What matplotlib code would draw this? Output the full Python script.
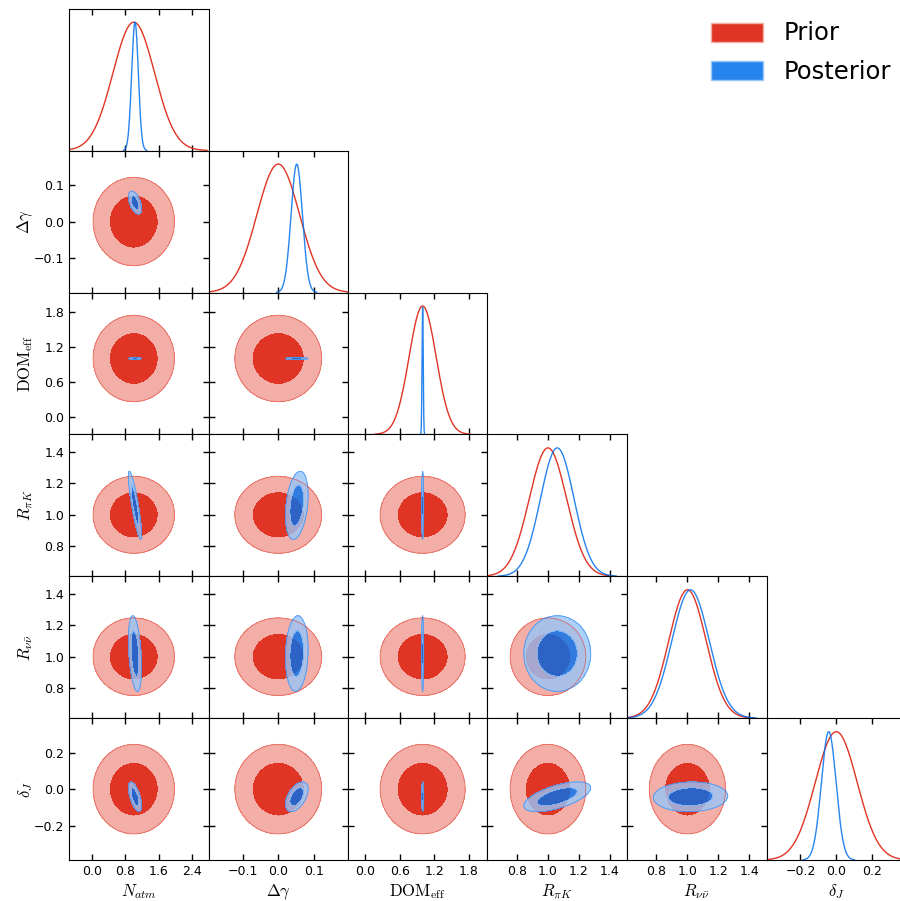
import numpy as np
import matplotlib.pyplot as plt
from matplotlib.patches import Patch

plt.rcParams["mathtext.fontset"] = "cm"

# parameter names, plot ranges and ticks
labels = [r"$N_{atm}$", r"$\Delta\gamma$", r"$\mathrm{DOM}_{\mathrm{eff}}$",
          r"$R_{\pi K}$", r"$R_{\nu\bar{\nu}}$", r"$\delta_J$"]
limits = [(-0.56, 2.8), (-0.196, 0.196), (-0.3, 2.13),
          (0.61, 1.51), (0.61, 1.51), (-0.39, 0.39)]
ticks = [[0.0, 0.8, 1.6, 2.4], [-0.1, 0.0, 0.1], [0.0, 0.6, 1.2, 1.8],
         [0.8, 1.0, 1.2, 1.4], [0.8, 1.0, 1.2, 1.4], [-0.2, 0.0, 0.2]]

# prior: independent gaussians
prior_mean = [1.0, 0.0, 1.0, 1.0, 1.0, 0.0]
prior_sd_2d = [0.49, 0.061, 0.37, 0.122, 0.123, 0.123]
prior_sd_1d = [0.50, 0.060, 0.235, 0.120, 0.120, 0.117]

# posterior
post_mean = [1.03, 0.052, 1.0, 1.06, 1.02, -0.042]
post_sd = [0.08, 0.016, 0.01, 0.108, 0.12, 0.041]
post_corr = [
    [1.00, -0.50, 0.0, -0.85, -0.35, -0.60],
    [-0.50, 1.00, 0.0, 0.30, 0.10, 0.50],
    [0.00, 0.00, 1.0, 0.00, 0.00, 0.00],
    [-0.85, 0.30, 0.0, 1.00, 0.00, 0.60],
    [-0.35, 0.10, 0.0, 0.00, 1.00, 0.05],
    [-0.60, 0.50, 0.0, 0.60, 0.05, 1.00],
]

red, red_light = "#E03424", "#F3AEA7"
blue, blue_light = "#006FED", "#99C5F8"
r_in, r_out = 1.2, 2.0  # contour radii in units of sigma

n = len(labels)
fig = plt.figure(figsize=(9, 9.01), dpi=100)
W, H = 900.0, 901.0
x0, y0, pw, ph = 69.0, 8.7, 139.5, 141.9


def r2_grid(X, Y, mx, my, sx, sy, rho):
    u = (X - mx) / sx
    v = (Y - my) / sy
    return (u * u - 2 * rho * u * v + v * v) / (1 - rho ** 2)


def gauss_1d(x, m, s):
    p = np.exp(-0.5 * ((x - m) / s) ** 2)
    p[p < 2e-3] = np.nan
    return p


for i in range(n):
    for j in range(i + 1):
        left = (x0 + j * pw) / W
        bottom = 1 - (y0 + (i + 1) * ph) / H
        ax = fig.add_axes([left, bottom, pw / W, ph / H])
        xlo, xhi = limits[j]
        if i == j:
            x = np.linspace(xlo, xhi, 800)
            ax.plot(x, gauss_1d(x, prior_mean[j], prior_sd_1d[j]), color=red, lw=1.0)
            ax.plot(x, gauss_1d(x, post_mean[j], post_sd[j]), color=blue, lw=1.0, alpha=0.85)
            ax.set_ylim(0, 1.105)
            ax.set_yticks([])
            ax.tick_params(direction="in", top=True, length=4)
        else:
            ylo, yhi = limits[i]
            X, Y = np.meshgrid(np.linspace(xlo, xhi, 700), np.linspace(ylo, yhi, 700))
            R = r2_grid(X, Y, prior_mean[j], prior_mean[i],
                        prior_sd_2d[j], prior_sd_2d[i], 0.0)
            ax.contourf(X, Y, R, levels=[0, r_in ** 2, r_out ** 2],
                        colors=[red, red_light])
            ax.contour(X, Y, R, levels=[r_out ** 2], colors=[red],
                       linewidths=0.7, alpha=0.5)
            R = r2_grid(X, Y, post_mean[j], post_mean[i],
                        post_sd[j], post_sd[i], post_corr[i][j])
            ax.contourf(X, Y, R, levels=[0, r_in ** 2, r_out ** 2],
                        colors=[blue, blue_light], alpha=0.8)
            ax.contour(X, Y, R, levels=[r_out ** 2], colors=[blue],
                       linewidths=0.7, alpha=0.5)
            ax.set_ylim(ylo, yhi)
            ax.set_yticks(ticks[i])
            ax.tick_params(direction="in", top=True, right=True, length=4)
        ax.set_xlim(xlo, xhi)
        ax.set_xticks(ticks[j])
        ax.tick_params(labelsize=9, width=1)
        if i == n - 1:
            ax.set_xlabel(labels[j], fontsize=12)
            ax.xaxis.set_label_coords(0.5, -0.155)
        else:
            ax.set_xticklabels([])
        if j == 0 and i > 0:
            ax.set_ylabel(labels[i], fontsize=12)
            ax.yaxis.set_label_coords(-0.245, 0.5)
        elif i != j:
            ax.set_yticklabels([])

handles = [Patch(facecolor=red, edgecolor=red_light, label="Prior"),
           Patch(facecolor="#2684EE", edgecolor=blue_light, label="Posterior")]
fig.legend(handles=handles, loc="upper left", bbox_to_anchor=(711 / W, 1 - 21.5 / H),
           frameon=False, fontsize=17.5, handlelength=2.14, handleheight=0.82,
           handletextpad=0.86, labelspacing=0.6, borderpad=0, borderaxespad=0)

fig.savefig("out.png", dpi=100)
